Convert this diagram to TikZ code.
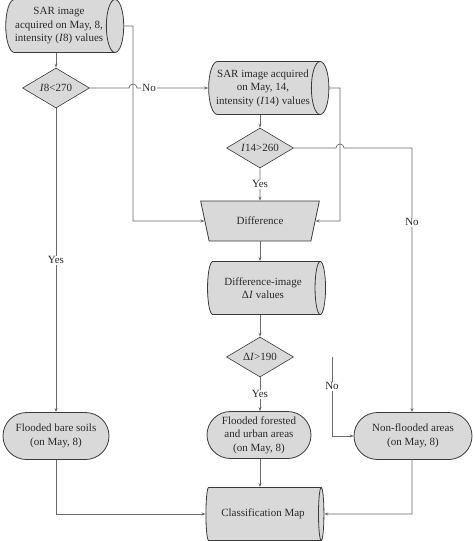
\documentclass[tikz,border=0pt]{standalone}
\usepackage{fontspec}
\setmainfont{Liberation Serif}
\usetikzlibrary{shapes.geometric,shapes.misc,arrows.meta}
\definecolor{boxfill}{HTML}{D9D9D9}
\definecolor{boxline}{HTML}{3A3A3A}
\definecolor{flowline}{HTML}{6A6A6A}
\definecolor{ink}{HTML}{2A2A2A}
\tikzset{
	every node/.style={font=\fontsize{11}{13.5}\selectfont,text=ink,align=center},
	datum/.style={cylinder,aspect=0.45,draw=boxline,fill=boxfill,line width=0.8pt,
		minimum width=53pt,minimum height=118pt,inner sep=1pt},
	test/.style={diamond,aspect=1.675,draw=boxline,fill=boxfill,line width=0.6pt,
		minimum width=67pt,minimum height=40pt,inner sep=0pt},
	process/.style={trapezium,trapezium angle=73,shape border rotate=180,trapezium stretches=true,
		draw=boxline,fill=boxfill,line width=0.8pt,minimum width=119pt,minimum height=40pt},
	outcome/.style={rounded rectangle,draw=boxline,fill=boxfill,line width=0.8pt,
		minimum width=108pt,minimum height=47pt,inner sep=1pt},
	flow/.style={draw=flowline,line width=0.7pt},
	answer/.style={fill=white,inner sep=1pt}
}
\begin{document}
\begin{tikzpicture}[x=1pt,y=-1pt,>={Stealth[length=4pt,width=3pt]}]
\useasboundingbox (0,0) rectangle (474,541);
% nodes
\node[datum] (sar8) at (59,26) {SAR image\\acquired on May, 8,\\intensity (\textit{I}8) values};
\node[test] (i8) at (56,88) {\textit{I}8<270};
\node[datum] (sar14) at (263,88) {SAR image acquired\\on May, 14,\\intensity (\textit{I}14) values};
\node[test] (i14) at (260,148) {\textit{I}14>260};
\node[process] (diff) at (260,221) {Difference};
\node[datum] (dimg) at (263,288) {Difference-image\\Δ\textit{I} values};
\node[test] (di) at (260,357) {Δ\textit{I}>190};
\node[outcome] (fbare) at (56,436) {Flooded bare soils\\(on May, 8)};
\node[outcome,minimum width=106pt] (fforest) at (259,435) {Flooded forested\\and urban areas\\(on May, 8)};
\node[outcome,minimum width=120pt] (nonfl) at (413,436) {Non-flooded areas\\(on May, 8)};
\node[datum] (cmap) at (263,514) {Classification Map};
\coordinate (nostub) at (332,357);
% connectors
\draw[flow,->] (i8.north |- sar8.south) -- (i8.north);
\draw[flow,->] (sar8.east) -- (133,26) -- (133,221) -- (diff.west);
\draw[flow,->] (i8.east) -- (129,88) arc[start angle=180,end angle=0,radius=4pt]
	-- node[answer,pos=0.17] {No} (sar14.west);
\draw[flow,->] (i8.south) -- node[answer] {Yes} (i8.south |- fbare.north);
\draw[flow,->] (i14.north |- sar14.south) -- (i14.north);
\draw[flow,->] (sar14.east) -- (340,88) -- (340,221) -- (diff.east);
\draw[flow,->] (i14.south) -- node[answer] {Yes} (diff.north);
\draw[flow,->] (i14.east) -- (336,148) arc[start angle=180,end angle=0,radius=4pt]
	-- (412,148) -- node[answer,pos=0.28] {No} (412,412);
\draw[flow,->] (diff.south) -- (diff.south |- dimg.north);
\draw[flow,->] (di.north |- dimg.south) -- (di.north);
\draw[flow,->] (di.south) -- node[answer] {Yes} (fforest.north -| di.south);
\draw[flow,->] (nostub) -- node[answer,pos=0.37] {No} (nostub |- nonfl.west) -- (nonfl.west);
\draw[flow,->] (fbare.south) -- (56,514) -- (cmap.west);
\draw[flow,->] (fforest.south -| di.south) -- (cmap.north -| di.south);
\draw[flow,->] (412,459) -- (412,514) -- (cmap.east);
\end{tikzpicture}
\end{document}
